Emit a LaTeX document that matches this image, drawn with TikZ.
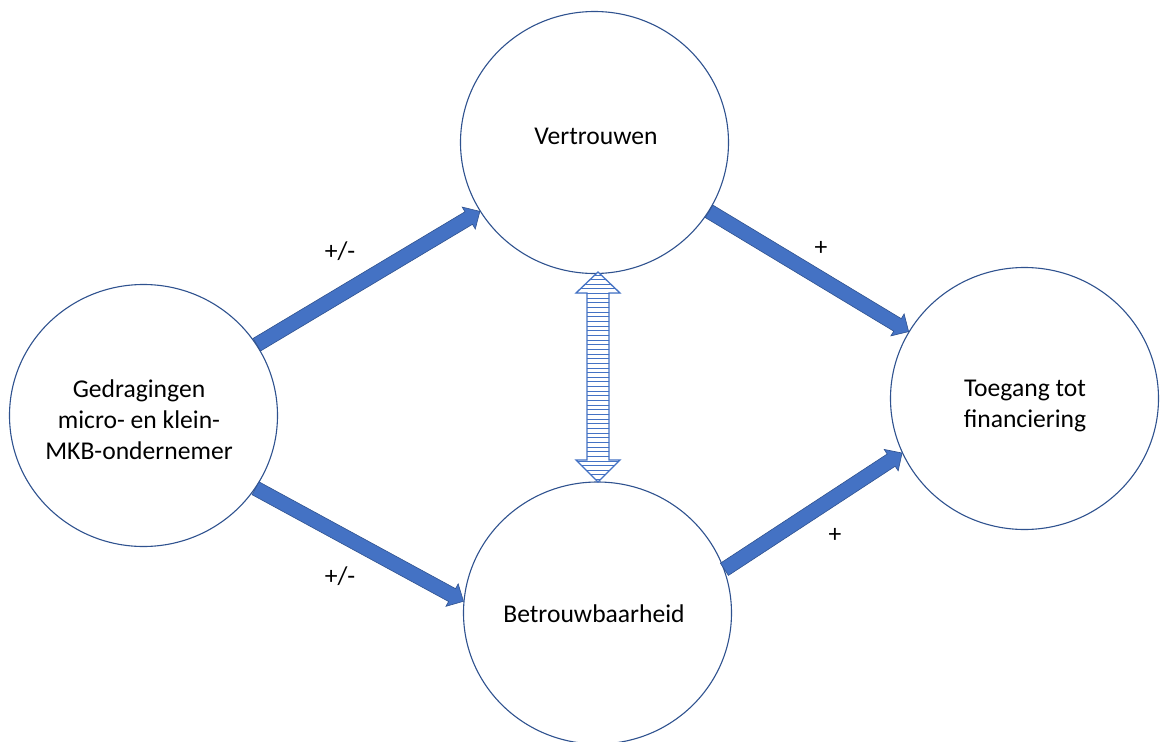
\documentclass[tikz,border=0pt]{standalone}
\usepackage{fontspec}
\setmainfont{Carlito}
\usetikzlibrary{calc,shapes.geometric}
\definecolor{circline}{HTML}{2F528F}
\definecolor{arrowfill}{HTML}{4472C4}
\definecolor{arrowline}{HTML}{2F528F}
\tikzset{
  bubble/.style={ellipse, draw=circline, line width=1.1pt, fill=white, minimum width=268pt, minimum height=262pt, inner sep=0pt},
  txt/.style={font=\fontsize{25.6}{31}\selectfont, align=center, inner sep=0pt, anchor=base},
  sign/.style={font=\fontsize{25.6}{31}\selectfont, inner sep=0pt},
  blockarrow/.style={draw=arrowline, fill=arrowfill, line width=0.6pt, line join=miter},
  dblarrow/.style={draw=arrowfill, line width=1.3pt, line join=miter},
  stripe/.style={draw=arrowfill, line width=1pt}
}
% #1 tail, #2 tip, #3 name of head-base coordinate
\newcommand\blockarrow[3]{%
  \coordinate (#3) at ($(#2)!13pt!(#1)$);
  \draw[blockarrow] ($(#1)!7.3pt!90:(#2)$) -- ($(#3)!7.3pt!-90:(#1)$) -- ($(#3)!12.8pt!-90:(#1)$) -- (#2)
    -- ($(#3)!12.8pt!90:(#1)$) -- ($(#3)!7.3pt!90:(#1)$) -- ($(#1)!7.3pt!-90:(#2)$) -- cycle;}
\begin{document}
\begin{tikzpicture}[x=1pt,y=-1pt]
\useasboundingbox (0,0) rectangle (1160,742);
\node[bubble] (G) at (143.5,415.5) {};
\node[bubble] (V) at (594.5,142.5) {};
\node[bubble] (B) at (597.5,613) {};
\node[bubble] (T) at (1024.5,398.5) {};

\node[txt] (Gt) at (139,459) {Gedragingen\\micro- en klein-\\MKB-ondernemer};
\node[txt] (Vt) at (596,144) {Vertrouwen};
\node[txt] (Bt) at (594,622) {Betrouwbaarheid};
\node[txt] (Tt) at (1025,427) {Toegang tot\\financiering};

% block arrows
\coordinate (a1s) at (G.32.6);  \coordinate (a1e) at (V.211.2);
\coordinate (a2s) at (V.-31.8); \coordinate (a2e) at (T.150.9);
\coordinate (a3s) at (G.-33.7); \coordinate (a3e) at (B.175.3);
\coordinate (a4s) at (B.19.8);  \coordinate (a4e) at (T.204.2);
\blockarrow{a1s}{a1e}{a1h}
\blockarrow{a2s}{a2e}{a2h}
\blockarrow{a3s}{a3e}{a3h}
\blockarrow{a4s}{a4e}{a4h}

\node[sign] (s1) at (340,251) {+/-};
\node[sign] (s2) at (821,248) {+};
\node[sign] (s3) at (340,576) {+/-};
\node[sign] (s4) at (835,535) {+};

% double striped arrow
\coordinate (dt) at (598,272);
\coordinate (db) at (598,482);
\def\dpath{(dt) -- ($(dt)+(22,21)$) -- ($(dt)+(11,21)$) -- ($(db)+(11,-22)$) -- ($(db)+(22,-22)$) -- (db)
  -- ($(db)+(-22,-22)$) -- ($(db)+(-11,-22)$) -- ($(dt)+(-11,21)$) -- ($(dt)+(-22,21)$) -- cycle}
\fill[white] \dpath;
\begin{scope}
  \clip \dpath;
  \foreach \yy in {3,7.65,...,210} {
    \draw[stripe] ($(dt)+(-25,\yy)$) -- ($(dt)+(25,\yy)$);
  }
\end{scope}
\draw[dblarrow] \dpath;
\end{tikzpicture}
\end{document}
